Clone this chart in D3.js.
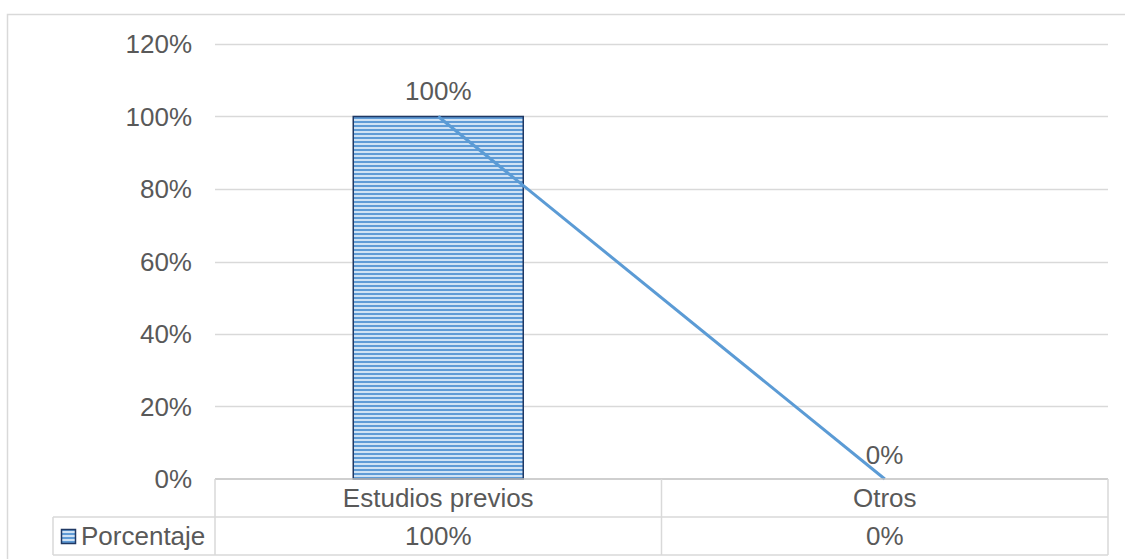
<!DOCTYPE html>
<html>
<head>
<meta charset="utf-8">
<script src="https://cdn.jsdelivr.net/npm/d3@7"></script>
<style>
  body { margin: 0; background: #fff; }
  text { font-family: "Liberation Sans", Arial, sans-serif; fill: #595959; }
</style>
</head>
<body>
<div id="chart"></div>
<script>
var width = 1125,
    height = 559;

// data
var categories = ["Estudios previos", "Otros"];
var values = [1.0, 0.0];
var seriesName = "Porcentaje";
var yTicks = [0, 0.2, 0.4, 0.6, 0.8, 1.0, 1.2];

var margin = {left: 215, right: 17, top: 44, bottom: 80};
var plotBottom = 479;
var fontSize = "26px";

var svg = d3.select("#chart").append("svg")
    .attr("width", width)
    .attr("height", height);

// stripe pattern for the bar
var defs = svg.append("defs");
var pat = defs.append("pattern")
    .attr("id", "stripes")
    .attr("patternUnits", "userSpaceOnUse")
    .attr("width", 8)
    .attr("height", 4);
pat.append("rect").attr("width", 8).attr("height", 4).attr("fill", "#cfe2f4");
pat.append("rect").attr("y", 1).attr("width", 8).attr("height", 2).attr("fill", "#5f9bd6");

// outer border
svg.append("rect")
    .attr("x", 7.5).attr("y", 14.5)
    .attr("width", width).attr("height", height)
    .attr("fill", "none")
    .attr("stroke", "#d9d9d9")
    .attr("stroke-width", 1.5);

var x = d3.scaleBand()
    .domain(categories)
    .range([margin.left, width - margin.right]);

var y = d3.scaleLinear()
    .domain([0, 1.2])
    .range([plotBottom, margin.top]);

var fmt = d3.format(".0%");

// gridlines
svg.selectAll(".grid")
  .data(yTicks.filter(function(d) { return d > 0; }))
  .enter().append("line")
    .attr("x1", x.range()[0])
    .attr("x2", x.range()[1])
    .attr("y1", function(d) { return Math.round(y(d)) + 0.5; })
    .attr("y2", function(d) { return Math.round(y(d)) + 0.5; })
    .attr("stroke", "#d9d9d9")
    .attr("stroke-width", 1.5);

// y tick labels
svg.selectAll(".ytick")
  .data(yTicks)
  .enter().append("text")
    .attr("x", 192)
    .attr("y", function(d) { return y(d); })
    .attr("dy", "0.35em")
    .attr("text-anchor", "end")
    .style("font-size", fontSize)
    .text(fmt);

// bars
var barW = 170;
svg.selectAll(".bar")
  .data(values)
  .enter().append("rect")
    .attr("x", function(d, i) { return x(categories[i]) + x.bandwidth() / 2 - barW / 2; })
    .attr("y", function(d) { return y(d); })
    .attr("width", barW)
    .attr("height", function(d) { return plotBottom - y(d); })
    .attr("fill", "url(#stripes)")
    .attr("stroke", function(d) { return d > 0 ? "#1f3864" : "none"; })
    .attr("stroke-width", 1.5);

// line through the values
var line = d3.line()
    .x(function(d, i) { return x(categories[i]) + x.bandwidth() / 2; })
    .y(function(d) { return y(d); });

svg.append("path")
    .datum(values)
    .attr("d", line)
    .attr("fill", "none")
    .attr("stroke", "#5b9bd5")
    .attr("stroke-width", 3);

// value labels
svg.selectAll(".vlabel")
  .data(values)
  .enter().append("text")
    .attr("x", function(d, i) { return x(categories[i]) + x.bandwidth() / 2; })
    .attr("y", function(d) { return y(d) - (d > 0 ? 26 : 24); })
    .attr("dy", "0.35em")
    .attr("text-anchor", function(d) { return d > 0 ? "middle" : "start"; })
    .attr("dx", function(d) { return d > 0 ? 0 : -19; })
    .style("font-size", fontSize)
    .text(fmt);

// data table
var row1 = plotBottom, row2 = 517, row3 = 555;
var legX = 53;
var tbl = svg.append("g").attr("stroke", "#d9d9d9").attr("stroke-width", 1.5);
tbl.append("line").attr("x1", x.range()[0]).attr("x2", x.range()[1]).attr("y1", row1).attr("y2", row1).attr("stroke", "#bfbfbf");
tbl.append("line").attr("x1", legX).attr("x2", x.range()[1]).attr("y1", row2).attr("y2", row2);
tbl.append("line").attr("x1", legX).attr("x2", x.range()[1]).attr("y1", row3).attr("y2", row3);
tbl.append("line").attr("x1", legX).attr("x2", legX).attr("y1", row2).attr("y2", row3);
var colEdges = [x.range()[0]].concat(categories.map(function(c) { return x(c) + x.bandwidth(); }));
tbl.selectAll(".col")
  .data(colEdges)
  .enter().append("line")
    .attr("x1", function(d) { return d; })
    .attr("x2", function(d) { return d; })
    .attr("y1", row1)
    .attr("y2", row3);

svg.selectAll(".cat")
  .data(categories)
  .enter().append("text")
    .attr("x", function(d) { return x(d) + x.bandwidth() / 2; })
    .attr("y", (row1 + row2) / 2)
    .attr("dy", "0.35em")
    .attr("text-anchor", "middle")
    .style("font-size", fontSize)
    .text(function(d) { return d; });

svg.selectAll(".cell")
  .data(values)
  .enter().append("text")
    .attr("x", function(d, i) { return x(categories[i]) + x.bandwidth() / 2; })
    .attr("y", (row2 + row3) / 2)
    .attr("dy", "0.35em")
    .attr("text-anchor", "middle")
    .style("font-size", fontSize)
    .text(fmt);

// legend key
svg.append("rect")
    .attr("x", 61.5).attr("y", 529.5)
    .attr("width", 14).attr("height", 14)
    .attr("fill", "url(#stripes)")
    .attr("stroke", "#1f3864")
    .attr("stroke-width", 1.5);
svg.append("text")
    .attr("x", 81)
    .attr("y", (row2 + row3) / 2)
    .attr("dy", "0.35em")
    .style("font-size", fontSize)
    .text(seriesName);
</script>
</body>
</html>
